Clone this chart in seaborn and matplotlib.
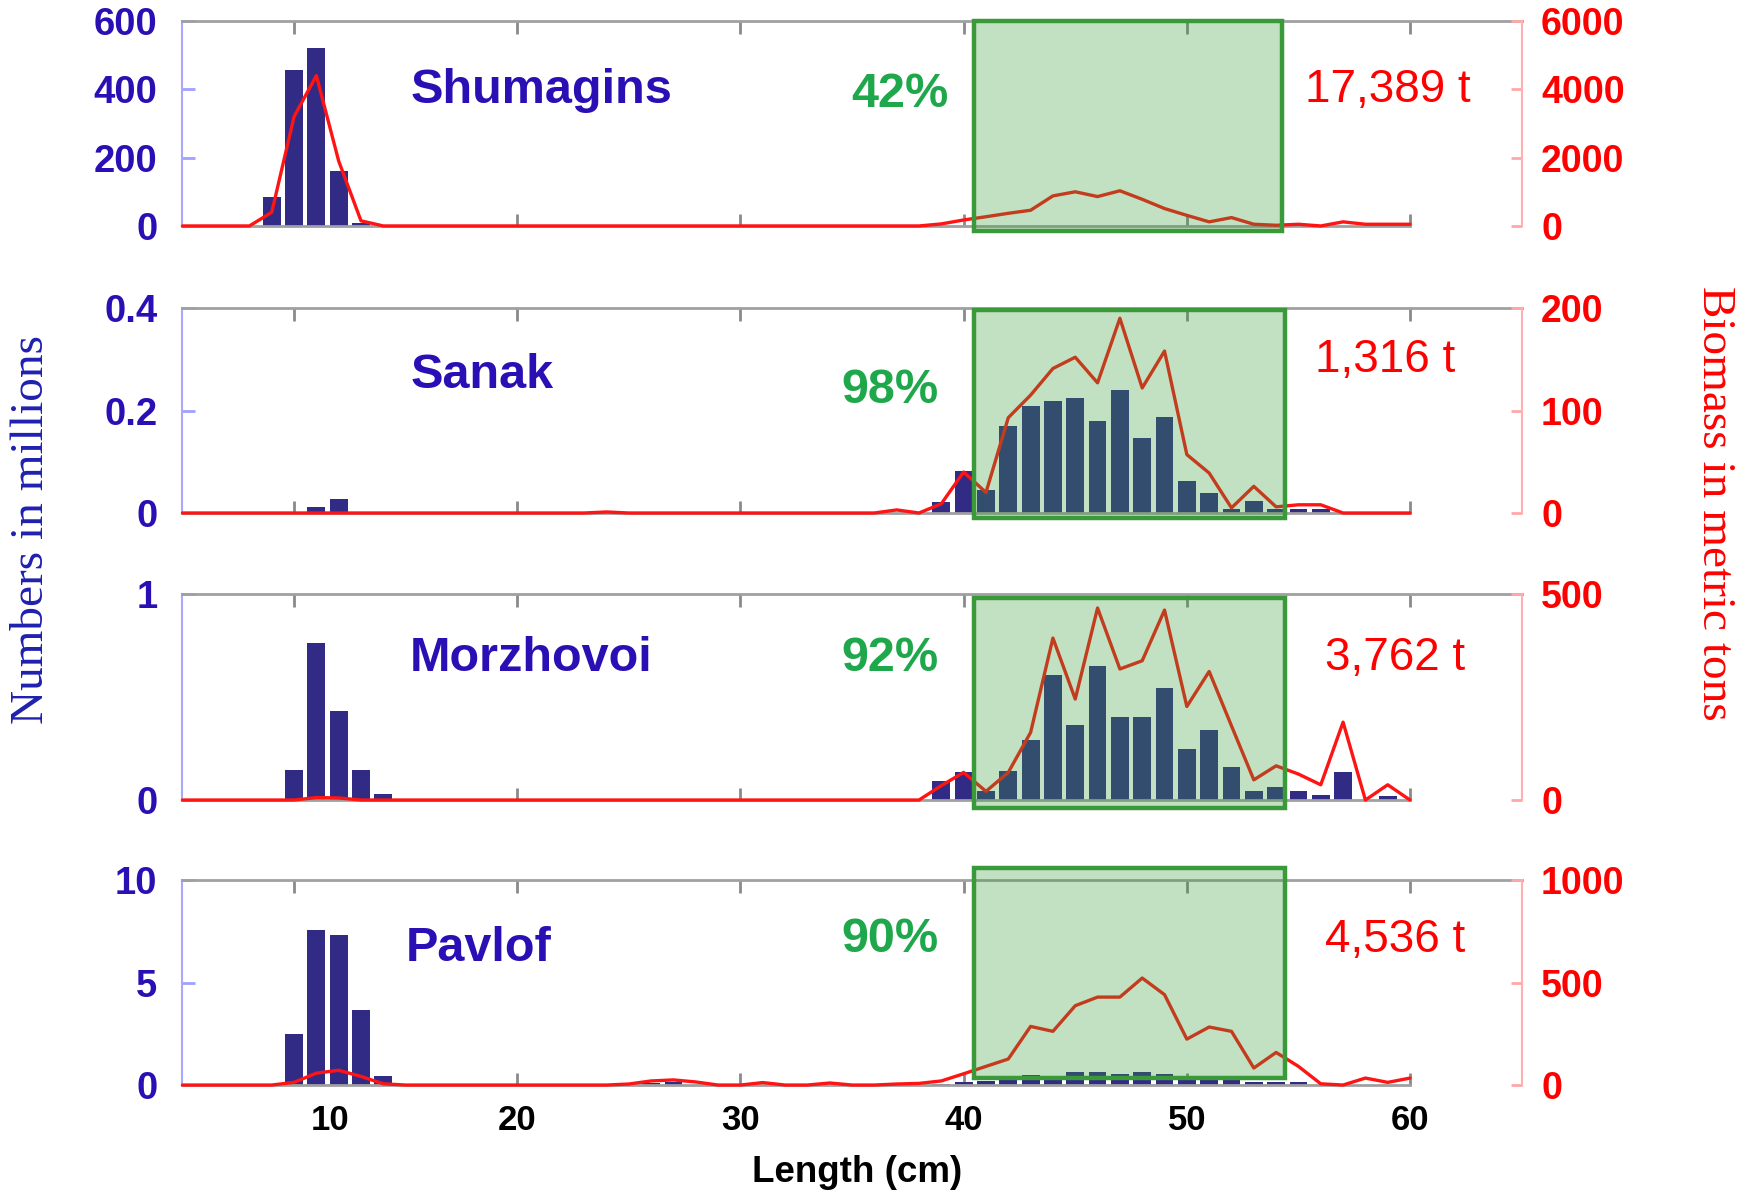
import seaborn as sns
import matplotlib.pyplot as plt
from matplotlib import font_manager, transforms
from matplotlib.patches import Rectangle

# =========================
# Data
# =========================
regions = ["Shumagins", "Sanak", "Morzhovoi", "Pavlof"]
pct_in_box = ["42%", "98%", "92%", "90%"]
total_biomass = ["17,389 t", "1,316 t", "3,762 t", "4,536 t"]

# numbers at length (millions), 1 cm bins
shum_len = [9, 10, 11, 12, 13]
shum_num = [85, 457, 522, 160, 10]

sanak_len = [11, 12, 39, 40, 41, 42, 43, 44, 45, 46, 47, 48, 49, 50, 51, 52, 53, 54, 55, 56]
sanak_num = [0.011, 0.027, 0.022, 0.082, 0.045, 0.169, 0.208, 0.218, 0.224, 0.179,
             0.241, 0.146, 0.187, 0.063, 0.039, 0.008, 0.023, 0.008, 0.007, 0.007]

morz_len = [10, 11, 12, 13, 14, 39, 40, 41, 42, 43, 44, 45, 46, 47, 48, 49, 50,
            51, 52, 53, 54, 55, 56, 57, 59]
morz_num = [0.146, 0.762, 0.43, 0.146, 0.03, 0.09, 0.134, 0.045, 0.139, 0.291, 0.607,
            0.366, 0.652, 0.405, 0.405, 0.542, 0.248, 0.34, 0.159, 0.042, 0.065,
            0.042, 0.026, 0.138, 0.021]

pav_len = [10, 11, 12, 13, 14, 26, 27, 39, 40, 41, 42, 43, 44, 45, 46, 47, 48, 49,
           50, 51, 52, 53, 54, 55]
pav_num = [2.5, 7.55, 7.33, 3.67, 0.45, 0.1, 0.15, 0.05, 0.13, 0.18, 0.26, 0.5, 0.46,
           0.62, 0.65, 0.54, 0.65, 0.54, 0.26, 0.26, 0.26, 0.13, 0.13, 0.13]

# biomass at length (metric tons), lengths 5..60 cm
length_cm = list(range(5, 61))
shum_bio = [0, 0, 0, 0, 400, 3200, 4400, 1900, 150, 0,
            0, 0, 0, 0, 0, 0, 0, 0, 0, 0,
            0, 0, 0, 0, 0, 0, 0, 0, 0, 0,
            0, 0, 0, 0, 60, 175, 270, 370, 460, 880,
            1000, 860, 1030, 780, 510, 310, 120, 245, 50, 20,
            50, 0, 120, 50, 50, 50]
sanak_bio = [0, 0, 0, 0, 0, 0, 0, 0, 0, 0,
             0, 0, 0, 0, 0, 0, 0, 0, 0, 1,
             0, 0, 0, 0, 0, 0, 0, 0, 0, 0,
             0, 0, 3, 0, 9, 40, 20, 93, 115, 141,
             152, 127, 190, 122, 158, 57, 39, 5, 26, 6,
             8, 8, 0, 0, 0, 0]
morz_bio = [0, 0, 0, 0, 0, 0, 6, 5, 0, 0,
            0, 0, 0, 0, 0, 0, 0, 0, 0, 0,
            0, 0, 0, 0, 0, 0, 0, 0, 0, 0,
            0, 0, 0, 0, 35, 67, 21, 67, 164, 393,
            245, 466, 318, 338, 461, 227, 312, 180, 49, 83,
            63, 37, 189, 0, 37, 0]
pav_bio = [0, 0, 0, 0, 0, 13, 58, 72, 42, 6,
           0, 0, 0, 0, 0, 0, 0, 0, 0, 0,
           5, 20, 25, 15, 0, 0, 12, 0, 0, 10,
           0, 0, 5, 8, 20, 55, 91, 127, 286, 262,
           387, 429, 429, 522, 441, 224, 283, 262, 83, 159,
           91, 6, 0, 34, 13, 34]

# axis ticks per panel
num_ticks = [[0, 200, 400, 600], [0, 0.2, 0.4], [0, 1], [0, 5, 10]]
num_ticklabels = [["0", "200", "400", "600"], ["0", "0.2", "0.4"], ["0", "1"], ["0", "5", "10"]]
bio_ticks = [[0, 2000, 4000, 6000], [0, 100, 200], [0, 500], [0, 500, 1000]]
x_ticks = [10, 20, 30, 40, 50, 60]
x_ticklabels = ["", "20", "30", "40", "50", "60"]

panels = [
    (shum_len, shum_num, shum_bio),
    (sanak_len, sanak_num, sanak_bio),
    (morz_len, morz_num, morz_bio),
    (pav_len, pav_num, pav_bio),
]

# =========================
# Style
# =========================
sns.set_style("white")
plt.rcParams['font.family'] = ['Liberation Sans', 'DejaVu Sans']
plt.rcParams['font.weight'] = 'bold'

try:
    font_manager.findfont("Liberation Sans Narrow", fallback_to_default=False)
    narrow_font, narrow_size = "Liberation Sans Narrow", 40
except ValueError:
    narrow_font, narrow_size = "Liberation Sans", 33

navy = "#322b86"
blue_txt = "#2a0fb5"
green_txt = "#1ea84b"
red = "#ff0000"
gray = "#a0a0a0"

# layout of the four stacked panels (figure fractions)
rects = [[0.1045, 0.8106, 0.767, 0.1718],
         [0.1045, 0.5700, 0.767, 0.1718],
         [0.1045, 0.3294, 0.767, 0.1727],
         [0.1045, 0.0905, 0.767, 0.1718]]
box_y = [(-0.024, 1.0), (-0.025, 0.99), (-0.04, 0.98), (0.032, 1.058)]
box_right = [54.25, 54.4, 54.4, 54.4]
name_y = [0.663, 0.673, 0.687, 0.668]
name_x = [15.2, 15.2, 15.2, 15.0]
pct_pos = [(37.15, 0.64), (36.7, 0.60), (36.7, 0.687), (36.7, 0.71)]
ton_pos = [(59.0, 0.663), (58.9, 0.746), (59.35, 0.687), (59.35, 0.71)]

fig = plt.figure(figsize=(17.46, 11.93), dpi=100)

for i, (lens, nums, bio) in enumerate(panels):
    ax = fig.add_axes(rects[i])
    sns.barplot(x=lens, y=nums, native_scale=True, color=navy, saturation=1,
                width=0.8, linewidth=0, errorbar=None, ax=ax)
    tw = ax.twinx()
    sns.lineplot(x=length_cm, y=bio, color="#ff1414", lw=2.4, ax=tw)
    for ln in tw.lines:
        ln.set_clip_on(False)

    ax.set_xlim(5, 65)
    ax.set_ylim(num_ticks[i][0], num_ticks[i][-1])
    tw.set_ylim(bio_ticks[i][0], bio_ticks[i][-1])

    # spines
    for s in ["left", "top", "bottom"]:
        tw.spines[s].set_visible(False)
    ax.spines["right"].set_visible(False)
    ax.spines["left"].set_color("#a8a8ff")
    ax.spines["left"].set_linewidth(1.5)
    ax.spines["top"].set_color(gray)
    ax.spines["top"].set_linewidth(2)
    ax.spines["bottom"].set_color(gray)
    ax.spines["bottom"].set_linewidth(2)
    ax.spines["bottom"].set_bounds(5, 60)
    tw.spines["right"].set_color("#ffb0b0")
    tw.spines["right"].set_linewidth(1.5)

    # ticks
    ax.set_yticks(num_ticks[i])
    ax.set_yticklabels(num_ticklabels[i])
    ax.tick_params(axis="y", direction="in", color="#a0a0ff", length=9, width=2,
                   labelcolor=blue_txt, labelsize=27.5, pad=18)
    tw.set_yticks(bio_ticks[i])
    tw.tick_params(axis="y", direction="in", color="#ffa8a8", length=8, width=2,
                   labelcolor=red, labelsize=27, pad=14)
    ax.set_xticks(x_ticks)
    ax.set_xticklabels(x_ticklabels)
    ax.tick_params(axis="x", direction="in", top=True, bottom=True, color="#8a8a8a",
                   length=9, width=2, labelsize=25, labelcolor="black", pad=14,
                   labelbottom=(i == 3))
    ax.set_xlabel("")
    ax.set_ylabel("")
    tw.set_ylabel("")

    # size-class box (40-54 cm)
    y0, y1 = box_y[i]
    tw.add_patch(Rectangle((40.45, y0), box_right[i] - 40.45, y1 - y0,
                           transform=tw.get_xaxis_transform(), clip_on=False,
                           facecolor=(0.216, 0.612, 0.216, 0.3),
                           edgecolor="#3a9a3a", lw=3.2, zorder=5))

    tr = tw.get_xaxis_transform()
    tw.text(name_x[i], name_y[i], regions[i], transform=tr, ha="left", va="center",
            fontsize=35, color=blue_txt, fontweight="bold", zorder=6)
    tw.text(pct_pos[i][0], pct_pos[i][1], pct_in_box[i], transform=tr, ha="center",
            va="center", fontsize=35, color=green_txt, fontweight="bold", zorder=6)
    tw.text(ton_pos[i][0], ton_pos[i][1], total_biomass[i], transform=tr, ha="center",
            va="center", fontsize=narrow_size, color=red, fontweight="normal",
            family=[narrow_font, "DejaVu Sans"], zorder=6)

    if i == 3:
        # the "10" label sits a bit to the right of its tick in the original
        off = transforms.offset_copy(ax.get_xaxis_transform(), fig=fig, y=-14, units="points")
        ax.text(11.6, 0, "10", transform=off, ha="center", va="top",
                fontsize=25, color="black", fontweight="bold")

# =========================
# Axis titles
# =========================
fig.text(0.491, 1 - 1172 / 1193, "Length (cm)", ha="center", va="center",
         fontsize=26.5, fontweight="bold", color="black")
fig.text(0.018, 1 - 529 / 1193, "Numbers in millions", rotation=90, ha="center",
         va="center", fontsize=34, color="#2020b0", fontweight="normal",
         family=["Liberation Serif", "DejaVu Serif"])
fig.text(0.982, 1 - 503 / 1193, "Biomass in metric tons", rotation=-90, ha="center",
         va="center", fontsize=34, color=red, fontweight="normal",
         family=["Liberation Serif", "DejaVu Serif"])

fig.savefig("out.png", dpi=100)
